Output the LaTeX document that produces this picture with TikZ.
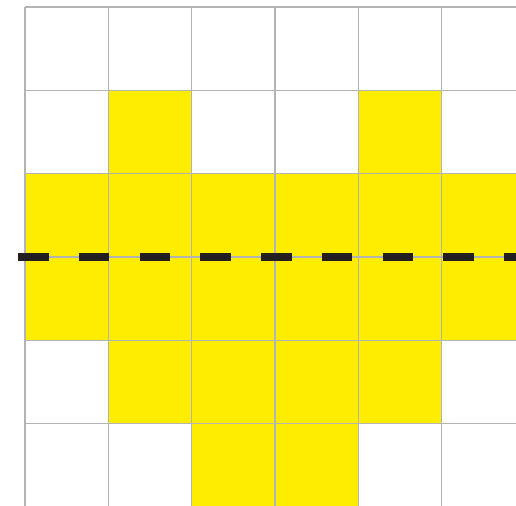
\documentclass[tikz,border=0pt]{standalone}
\usepackage{xcolor}
\usepackage{tikz}
\definecolor{Yellow}{HTML}{FFED00}
\definecolor{GridGray}{HTML}{B3B3B3}
\definecolor{Ink}{HTML}{231F20}
\tikzset{
  cell/.style={fill=Yellow,draw=none},
  gridline/.style={draw=GridGray,line width=0.45pt},
  foldline/.style={draw=Ink,line width=2.7pt,dash pattern=on 0.366cm off 0.363cm}
}
\begin{document}
\begin{tikzpicture}[y=-1cm]
  \useasboundingbox (-0.3,-0.084) rectangle (5.892,5.976);
  \clip (-0.3,-0.084) rectangle (5.892,5.976);
  % yellow cells
  \foreach \c/\r in {1/1,4/1,1/4,2/4,3/4,4/4,2/5,3/5}
    \fill[cell] (\c,\r) rectangle ++(1,1);
  \fill[cell] (0,2) rectangle (6,4);
  % grid
  \foreach \i in {0,...,6} {
    \draw[gridline] (\i,0) -- (\i,6.2);
    \draw[gridline] (0,\i) -- (6.2,\i);
  }
  % dashed line
  \draw[foldline] (-0.084,3) -- (6.2,3);
\end{tikzpicture}
\end{document}
